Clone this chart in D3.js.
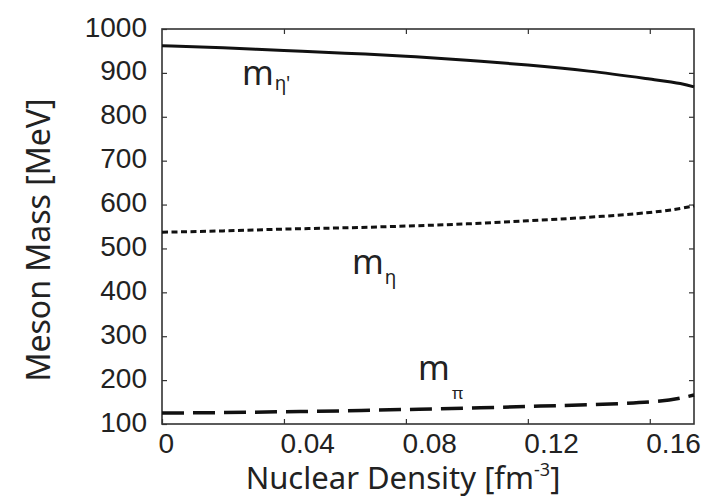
<!DOCTYPE html>
<html>
<head>
<meta charset="utf-8">
<script src="https://cdn.jsdelivr.net/npm/d3@7"></script>
<style>
  body { margin: 0; background: #fff; }
  svg { display: block; font-family: 'Noto Sans', 'Open Sans', sans-serif; }
</style>
</head>
<body>
<div class="chart"></div>
<script>
// nuclear density [fm^-3]
const density = [0, 0.02, 0.04, 0.06, 0.08, 0.10, 0.12, 0.14, 0.16, 0.17, 0.1745];
// meson masses [MeV]
const etaPrimeMass = [962, 957, 951, 945, 938, 929, 918, 904, 886, 876, 868];
const etaMass = [537, 540, 544, 547, 551, 556, 563, 571, 582, 591, 597];
const pionMass = [125, 126, 128, 130, 133, 136, 140, 144, 150, 159, 166];

const xTicks = [0, 0.04, 0.08, 0.12, 0.16];
const xTickLabels = ['0', '0.04', '0.08', '0.12', '0.16'];
const yTicks = [100, 200, 300, 400, 500, 600, 700, 800, 900, 1000];

const config = {
  width: 718,
  height: 499,
  left: 162,
  right: 694,
  top: 29,
  bottom: 424
};

const svg = d3.select('.chart')
  .append('svg')
  .attr('width', config.width)
  .attr('height', config.height);

const x = d3.scaleLinear()
  .domain([0, 0.1745])
  .range([config.left, config.right]);

const y = d3.scaleLinear()
  .domain([100, 1000])
  .range([config.bottom, config.top]);

const axisColor = '#333';

// bottom axis with labels
const gx = svg.append('g')
  .attr('transform', `translate(0,${config.bottom})`)
  .call(d3.axisBottom(x)
    .tickValues(xTicks)
    .tickFormat((d, i) => xTickLabels[i])
    .tickSizeInner(-5)
    .tickSizeOuter(0)
    .tickPadding(9));
gx.select('.domain').remove();
gx.selectAll('.tick line').attr('stroke', axisColor).attr('stroke-width', 1.2);
gx.selectAll('.tick text')
  .attr('font-size', 28)
  .attr('fill', '#222')
  .attr('text-anchor', 'start')
  .attr('dx', -4)
  .attr('dy', '0.71em');

// top ticks
const gxTop = svg.append('g')
  .attr('transform', `translate(0,${config.top})`)
  .call(d3.axisTop(x).tickValues(xTicks.slice(1)).tickSizeInner(-5).tickSizeOuter(0).tickFormat(''));
gxTop.select('.domain').remove();
gxTop.selectAll('.tick line').attr('stroke', axisColor).attr('stroke-width', 1.2);

// left axis with labels
const gy = svg.append('g')
  .attr('transform', `translate(${config.left},0)`)
  .call(d3.axisLeft(y)
    .tickValues(yTicks)
    .tickFormat(d3.format('d'))
    .tickSizeInner(-5)
    .tickSizeOuter(0)
    .tickPadding(15));
gy.select('.domain').remove();
gy.selectAll('.tick line').attr('stroke', axisColor).attr('stroke-width', 1.2);
gy.selectAll('.tick text')
  .attr('font-size', 28)
  .attr('fill', '#222')
  .attr('dy', '0.25em');

// right ticks
const gyRight = svg.append('g')
  .attr('transform', `translate(${config.right},0)`)
  .call(d3.axisRight(y).tickValues(yTicks.slice(1, -1)).tickSizeInner(-5).tickSizeOuter(0).tickFormat(''));
gyRight.select('.domain').remove();
gyRight.selectAll('.tick line').attr('stroke', axisColor).attr('stroke-width', 1.2);

// frame
svg.append('rect')
  .attr('x', config.left)
  .attr('y', config.top)
  .attr('width', config.right - config.left)
  .attr('height', config.bottom - config.top)
  .attr('fill', 'none')
  .attr('stroke', axisColor)
  .attr('stroke-width', 1.6);

// curves
const series = [
  { values: etaPrimeMass, dash: null, width: 3 },
  { values: etaMass, dash: '6,3.5', width: 3 },
  { values: pionMass, dash: '22,9', width: 3.5 }
];

const line = d3.line()
  .x(d => x(d[0]))
  .y(d => y(d[1]))
  .curve(d3.curveNatural);

svg.append('g')
  .selectAll('path')
  .data(series)
  .enter()
  .append('path')
  .attr('d', s => line(density.map((dv, i) => [dv, s.values[i]])))
  .attr('fill', 'none')
  .attr('stroke', '#111')
  .attr('stroke-width', s => s.width)
  .attr('stroke-dasharray', s => s.dash);

// curve labels
const curveLabels = [
  { at: [0.0262, 872], sub: 'η\'', subDx: 1, subDy: 5, subSize: 19 },
  { at: [0.0623, 442], sub: 'η', subDx: 1, subDy: 10, subSize: 19 },
  { at: [0.0840, 200], sub: 'π', subDx: 2, subDy: 19, subSize: 17 }
];

const lbl = svg.append('g')
  .selectAll('text')
  .data(curveLabels)
  .enter()
  .append('text')
  .attr('x', d => x(d.at[0]))
  .attr('y', d => y(d.at[1]))
  .attr('fill', '#222');
lbl.append('tspan')
  .attr('font-size', 34)
  .text('m');
lbl.append('tspan')
  .attr('font-size', d => d.subSize)
  .attr('dx', d => d.subDx)
  .attr('dy', d => d.subDy)
  .text(d => d.sub);

// axis titles
const xTitle = svg.append('text')
  .attr('x', 403)
  .attr('y', 489)
  .attr('text-anchor', 'middle')
  .attr('font-size', 31)
  .attr('fill', '#222');
xTitle.append('tspan').text('Nuclear Density [fm');
xTitle.append('tspan').attr('font-size', 18).attr('dy', -13).text('-3');
xTitle.append('tspan').attr('dy', 13).text(']');

svg.append('text')
  .attr('transform', 'translate(50,240) rotate(-90)')
  .attr('text-anchor', 'middle')
  .attr('font-size', 32)
  .attr('fill', '#222')
  .text('Meson Mass [MeV]');
</script>
</body>
</html>
